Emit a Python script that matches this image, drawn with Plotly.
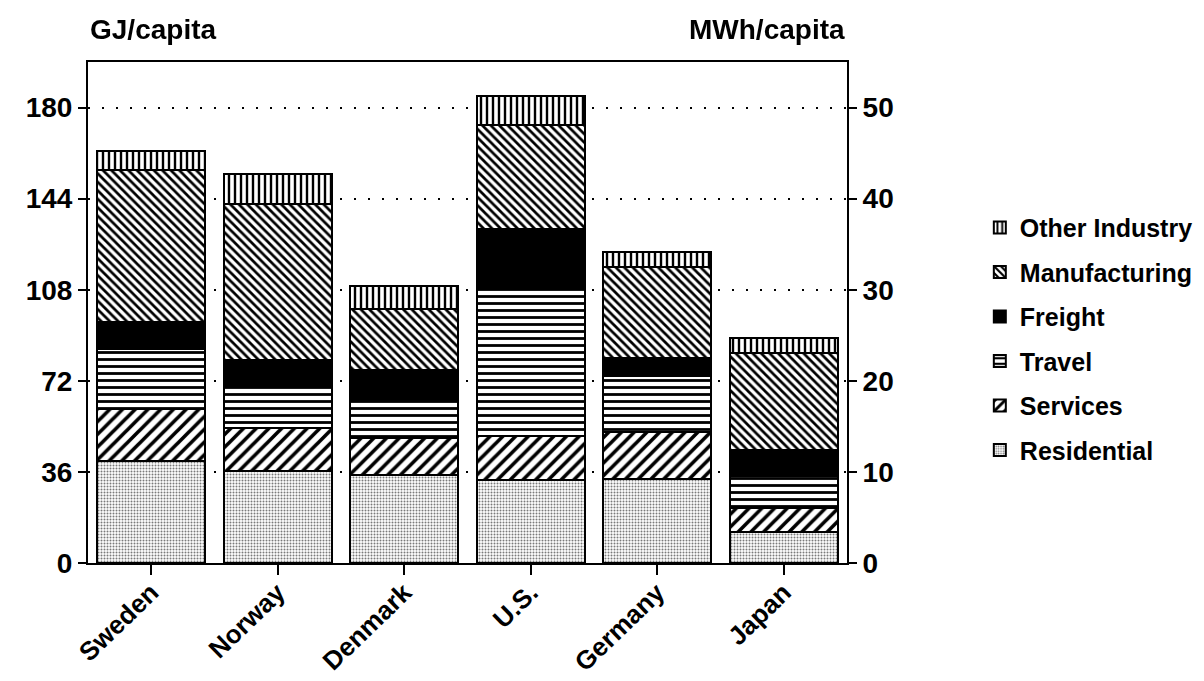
import plotly.graph_objects as go

COUNTRIES = ['Sweden', 'Norway', 'Denmark', 'U.S.', 'Germany', 'Japan']

# GJ per capita
RESIDENTIAL = [40.5, 36.4, 34.8, 32.7, 33.1, 12.3]
SERVICES = [20.4, 17.0, 14.5, 17.6, 18.8, 9.6]
TRAVEL = [23.8, 16.1, 14.9, 58.0, 21.9, 12.3]
FREIGHT = [10.4, 10.9, 12.2, 23.7, 7.2, 10.6]
MANUFACTURING = [60.1, 61.6, 23.8, 41.1, 35.8, 38.2]
OTHER_INDUSTRY = [7.7, 11.9, 9.1, 11.4, 6.0, 5.8]

GJ_TICKS = [0, 36, 72, 108, 144, 180]
MWH_TICKS = [0, 10, 20, 30, 40, 50]
GJ_PER_MWH = 3.6

SERIES = [
    ('Residential', RESIDENTIAL, dict(shape='.', fgcolor='#7a7a7a', size=3, solidity=0.35)),
    ('Services', SERVICES, dict(shape='/', fgcolor='black', size=9, solidity=0.4)),
    ('Travel', TRAVEL, dict(shape='-', fgcolor='black', size=7, solidity=0.4)),
    ('Freight', FREIGHT, None),
    ('Manufacturing', MANUFACTURING, dict(shape='\\', fgcolor='black', size=6, solidity=0.45)),
    ('Other Industry', OTHER_INDUSTRY, dict(shape='|', fgcolor='black', size=6, solidity=0.4)),
]

FONT = 'Liberation Sans, Arial, sans-serif'

fig = go.Figure()
for i, (name, vals, pat) in enumerate(SERIES):
    marker = dict(line=dict(color='black', width=2))
    if pat is None:
        marker['color'] = 'black'
    else:
        marker['color'] = 'white'
        marker['pattern'] = dict(bgcolor='white', fillmode='replace', **pat)
    fig.add_trace(go.Bar(x=COUNTRIES, y=vals, name=name, marker=marker,
                         legendgroup=name, legendrank=100 - i))

# invisible carrier so the MWh axis gets drawn
totals = [sum(v) for v in zip(RESIDENTIAL, SERVICES, TRAVEL, FREIGHT,
                              MANUFACTURING, OTHER_INDUSTRY)]
fig.add_trace(go.Scatter(x=COUNTRIES, y=[t / GJ_PER_MWH for t in totals],
                         yaxis='y2', mode='markers', opacity=0,
                         showlegend=False, hoverinfo='skip'))

# the page body adds an 8px offset, so the figure is 8px smaller than the window
y_max = 198
fig.update_layout(
    barmode='stack',
    bargap=0.15,
    width=1196, height=673,
    margin=dict(l=80, r=357, t=54, b=118, autoexpand=False),
    plot_bgcolor='white', paper_bgcolor='white',
    font=dict(family=FONT, size=26, color='black', weight='bold'),
    showlegend=True,
    legend=dict(x=1.175, y=0.715, xanchor='left', yanchor='top',
                traceorder='grouped', tracegroupgap=9,
                font=dict(size=25, weight='bold')),
    xaxis=dict(showline=True, linecolor='black', linewidth=2, mirror=True,
               ticks='outside', ticklen=10, tickwidth=2, tickcolor='black',
               tickangle=-44, tickfont=dict(size=26), ticklabelstandoff=-8,
               automargin=False),
    yaxis=dict(range=[0, y_max], tickvals=GJ_TICKS, showline=True,
               linecolor='black', linewidth=2, ticks='outside', ticklen=8,
               tickwidth=2, tickcolor='black', showgrid=True,
               gridcolor='black', gridwidth=2, griddash='2px,12px',
               zeroline=False, tickfont=dict(size=28), automargin=False),
    yaxis2=dict(range=[0, y_max / GJ_PER_MWH], tickvals=MWH_TICKS,
                overlaying='y', side='right', showline=True,
                linecolor='black', linewidth=2, ticks='outside', ticklen=8,
                tickwidth=2, tickcolor='black', showgrid=False,
                zeroline=False, tickfont=dict(size=28), automargin=False),
)

fig.add_annotation(text='GJ/capita', xref='paper', yref='paper', x=0, y=1.0,
                   xanchor='left', yanchor='bottom', yshift=15, showarrow=False,
                   font=dict(size=28))
fig.add_annotation(text='MWh/capita', xref='paper', yref='paper', x=1, y=1.0,
                   xanchor='right', yanchor='bottom', yshift=15, showarrow=False,
                   font=dict(size=28))

fig.write_html('out.html')
